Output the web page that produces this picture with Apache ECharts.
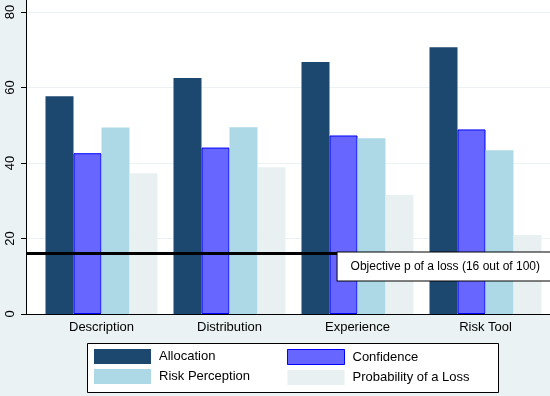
<!DOCTYPE html>
<html>
<head>
<meta charset="utf-8">
<script src="https://cdn.jsdelivr.net/npm/echarts@6/dist/echarts.min.js"></script>
<style>
  html, body { margin: 0; padding: 0; }
  #chart-container { width: 550px; height: 396px; }
</style>
</head>
<body>
<div id="chart-container"></div>
<script>
var categories = ['Description', 'Distribution', 'Experience', 'Risk Tool'];
var allocation = [57.7, 62.5, 66.8, 70.7];
var confidence = [42.6, 44.1, 47.3, 48.9];
var riskPerception = [49.4, 49.5, 46.6, 43.4];
var probLoss = [37.3, 38.9, 31.5, 20.9];
var yTicks = [0, 20, 40, 60, 80];
var objectiveP = 16;

var dom = document.getElementById('chart-container');
var myChart = echarts.init(dom, null, { renderer: 'canvas' });

var font = "'Liberation Sans', Arial, sans-serif";
var yMax = 83.2;

var legendCommon = {
  orient: 'vertical',
  top: 349,
  itemWidth: 57, itemHeight: 15, itemGap: 5,
  padding: 0,
  icon: 'rect',
  z: 4,
  textStyle: { color: '#000', fontSize: 13, padding: [0, 0, 0, 3], fontFamily: font }
};

var option = {
  backgroundColor: '#eaf2f3',
  animation: false,
  textStyle: { fontFamily: font },
  grid: [
    { left: 26, right: 0, top: 0, bottom: 82, show: true, backgroundColor: '#fff', borderWidth: 0 },
    { left: 37.5, width: 512, top: 0, bottom: 82 }
  ],
  graphic: [
    {
      type: 'rect', z: 1, silent: true,
      shape: { x: 87.5, y: 343.5, width: 411, height: 49 },
      style: { fill: '#fff', stroke: '#000', lineWidth: 1 }
    }
  ],
  xAxis: [
    {
      gridIndex: 0, type: 'value', min: 0, max: 1,
      axisLine: { show: true, lineStyle: { color: '#000', width: 1 } },
      axisTick: { show: false }, axisLabel: { show: false }, splitLine: { show: false }
    },
    {
      gridIndex: 1, type: 'category', data: categories,
      axisLine: { show: false }, axisTick: { show: false },
      axisLabel: { color: '#000', fontSize: 13, margin: 7, fontFamily: font }
    }
  ],
  yAxis: [
    {
      gridIndex: 0, type: 'value', min: 0, max: yMax, interval: 20,
      axisLine: { show: true, lineStyle: { color: '#000', width: 1 } },
      axisTick: { show: true, length: 5, lineStyle: { color: '#000' }, customValues: yTicks },
      axisLabel: { rotate: 90, color: '#000', fontSize: 13, margin: 9, customValues: yTicks, fontFamily: font },
      splitLine: { show: true, lineStyle: { color: '#eaf2f3', width: 1 } }
    },
    {
      gridIndex: 1, type: 'value', min: 0, max: yMax, show: false
    }
  ],
  legend: [
    Object.assign({}, legendCommon, {
      left: 94,
      data: ['Allocation', 'Risk Perception']
    }),
    Object.assign({}, legendCommon, {
      left: 287,
      data: [
        { name: 'Confidence', itemStyle: { borderWidth: 1, borderColor: '#0000ff' } },
        'Probability of a Loss'
      ]
    })
  ],
  series: [
    {
      name: 'Allocation', type: 'bar', xAxisIndex: 1, yAxisIndex: 1,
      data: allocation, barWidth: 28, barGap: '0%',
      itemStyle: { color: '#1c476e' }
    },
    {
      name: 'Confidence', type: 'bar', xAxisIndex: 1, yAxisIndex: 1,
      data: confidence, barWidth: 28, barGap: '0%',
      itemStyle: { color: '#6767ff', borderColor: '#0000ff', borderWidth: 1 }
    },
    {
      name: 'Risk Perception', type: 'bar', xAxisIndex: 1, yAxisIndex: 1,
      data: riskPerception, barWidth: 28, barGap: '0%',
      itemStyle: { color: '#add8e6' }
    },
    {
      name: 'Probability of a Loss', type: 'bar', xAxisIndex: 1, yAxisIndex: 1,
      data: probLoss, barWidth: 28, barGap: '0%',
      itemStyle: { color: '#e8f0f2' }
    },
    {
      name: 'objective', type: 'line', xAxisIndex: 0, yAxisIndex: 0,
      data: [], z: 5,
      markLine: {
        silent: true, symbol: 'none', z: 5,
        lineStyle: { color: '#000', width: 3, type: 'solid' },
        label: {
          show: true, position: 'insideEndBottom', distance: [-3, -1],
          formatter: 'Objective p of a loss (16 out of 100)',
          color: '#000', fontSize: 12, fontFamily: font,
          backgroundColor: '#fff', borderColor: '#000', borderWidth: 1,
          padding: [8, 13]
        },
        data: [{ yAxis: objectiveP }]
      }
    }
  ]
};

myChart.setOption(option);
window.addEventListener('resize', myChart.resize);
</script>
</body>
</html>
